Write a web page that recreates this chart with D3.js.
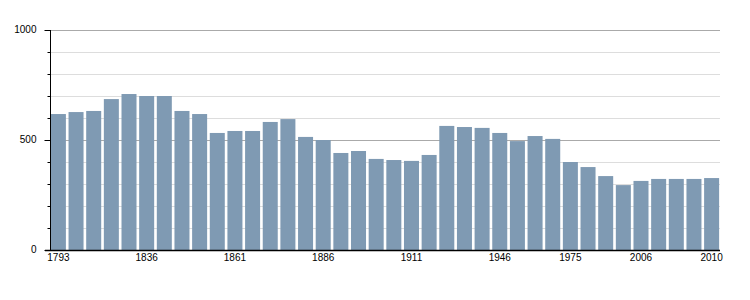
<!DOCTYPE html>
<html>
<head>
<meta charset="utf-8">
<script src="https://cdn.jsdelivr.net/npm/d3@7"></script>
<style>
  body { margin: 0; background: #fff; }
  svg text { font-family: "Liberation Sans", Arial, sans-serif; font-size: 10px; fill: #000; }
</style>
</head>
<body>
<div id="chart"></div>
<script>
const years = [1793, 1800, 1806, 1821, 1831, 1836, 1841, 1846, 1851, 1856,
    1861, 1866, 1872, 1876, 1881, 1886, 1891, 1896, 1901, 1906,
    1911, 1921, 1926, 1931, 1936, 1946, 1954, 1962, 1968, 1975,
    1982, 1990, 1999, 2006, 2007, 2008, 2009, 2010];
const population = [618, 627, 632, 686, 709, 700, 700, 632, 618, 532,
    541, 541, 582, 595, 514, 500, 441, 450, 414, 409,
    405, 432, 564, 559, 555, 532, 495, 518, 505, 400,
    377, 336, 295, 314, 323, 323, 323, 327];
const labelYears = [1793, 1836, 1861, 1886, 1911, 1946, 1975, 2006, 2010];
const majorTicks = [0, 500, 1000];
const minorTicks = [100, 200, 300, 400, 600, 700, 800, 900];

const W = 750, H = 300;
const margin = { top: 30, right: 30, bottom: 50, left: 50 };

const svg = d3.select("#chart")
    .append("svg")
    .attr("width", W)
    .attr("height", H);

const x = d3.scaleBand()
    .domain(years)
    .range([margin.left, W - margin.right])
    .paddingInner(0.15)
    .paddingOuter(0.05);

const y = d3.scaleLinear()
    .domain([0, 1000])
    .range([H - margin.bottom, margin.top]);

// gridlines
svg.append("g")
    .selectAll("line")
    .data(minorTicks)
    .join("line")
    .attr("x1", margin.left)
    .attr("x2", W - margin.right)
    .attr("y1", d => Math.round(y(d)) + 0.5)
    .attr("y2", d => Math.round(y(d)) + 0.5)
    .attr("stroke", "#dddddd");

svg.append("g")
    .selectAll("line")
    .data(majorTicks.filter(d => d > 0))
    .join("line")
    .attr("x1", margin.left)
    .attr("x2", W - margin.right)
    .attr("y1", d => Math.round(y(d)) + 0.5)
    .attr("y2", d => Math.round(y(d)) + 0.5)
    .attr("stroke", "#aaaaaa");

// bars
svg.append("g")
    .selectAll("rect")
    .data(years)
    .join("rect")
    .attr("x", d => x(d))
    .attr("width", x.bandwidth())
    .attr("y", (d, i) => y(population[i]))
    .attr("height", (d, i) => y(0) - y(population[i]))
    .attr("fill", "#7f9ab3");

// y axis: major ticks with labels, minor ticks without
const yAxis = svg.append("g")
    .attr("transform", `translate(${margin.left + 0.5},0)`)
    .call(d3.axisLeft(y).tickValues(majorTicks).tickSize(6).tickPadding(8).tickFormat(d3.format("d")));
yAxis.select(".domain").remove();
yAxis.selectAll("text").attr("dy", "0.2em");

svg.append("g")
    .attr("transform", `translate(${margin.left + 0.5},0)`)
    .call(d3.axisLeft(y).tickValues(minorTicks).tickSize(3).tickFormat(""))
    .select(".domain").remove();

svg.append("line")
    .attr("x1", margin.left + 0.5)
    .attr("x2", margin.left + 0.5)
    .attr("y1", y(1000))
    .attr("y2", y(0))
    .attr("stroke", "#000");

svg.selectAll(".tick line").attr("stroke", "#000");
svg.selectAll(".tick text").style("font-size", "10px");

// x axis
const xAxis = svg.append("g")
    .attr("transform", `translate(0,${y(0)})`)
    .call(d3.axisBottom(x).tickValues(labelYears).tickSize(0).tickPadding(4));
xAxis.select(".domain").remove();
xAxis.selectAll("text").style("font-size", "10px");

svg.append("line")
    .attr("x1", margin.left - 5)
    .attr("x2", W - margin.right)
    .attr("y1", y(0) + 0.5)
    .attr("y2", y(0) + 0.5)
    .attr("stroke", "#000")
    .attr("stroke-width", 1.5);
</script>
</body>
</html>
